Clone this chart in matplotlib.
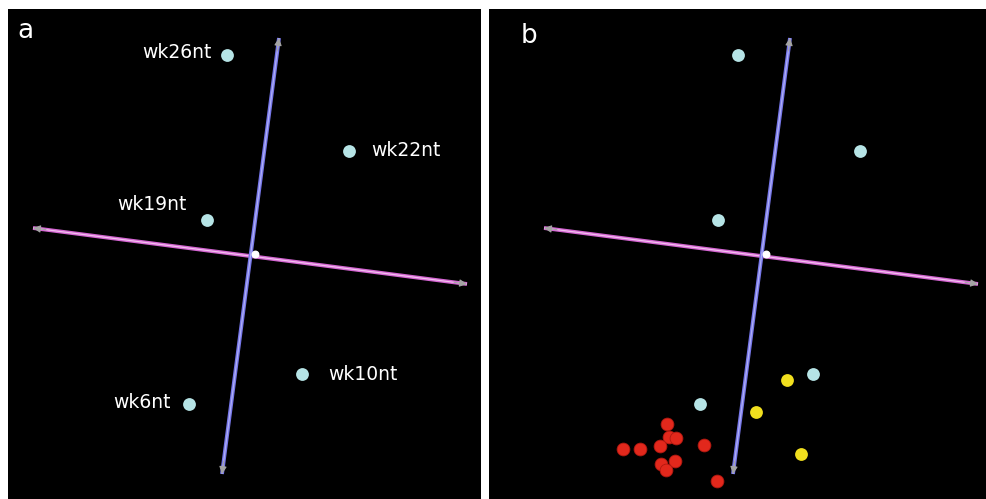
import matplotlib.pyplot as plt

### DATA ###
# sample scores on the two components (origin = 0, 0)
week_labels = ["wk26nt", "wk22nt", "wk19nt", "wk6nt", "wk10nt"]
week_x = [-28, 94, -48, -66, 47]
week_y = [199, 103, 34, -150, -120]

yellow_x = [21, -10, 35]
yellow_y = [-126, -158, -200]

red_x = [-143, -126, -99, -97, -90, -106, -62, -105, -91, -100, -49]
red_y = [-195, -195, -170, -183, -184, -192, -191, -210, -207, -216, -227]

# component axes drawn as arrows (start, end)
blue_axis_x = [-33, 24]
blue_axis_y = [-220, 216]
pink_axis_x = [-222, 212]
pink_axis_y = [26, -30]

# label offsets in pixels (dx, dy, ha)
label_offsets = [(-15, 2, "right"), (22, 0, "left"), (-20, 15, "right"),
                 (-18, 1, "right"), (26, -1, "left")]

### STYLE ###
CYAN = "#b6e4e6"
RED = "#e2281c"
YELLOW = "#f1df1e"
BLUE = "#7676e8"
PINK = "#d466d2"
MARKER_SIZE = 85


def draw_axis(ax, xs, ys, color, core):
    ax.plot(xs, ys, color=color, lw=2.8, solid_capstyle="butt", zorder=2)
    ax.plot(xs, ys, color=core, lw=0.9, solid_capstyle="butt", zorder=2)
    # small grey arrow heads at both ends
    for i, j in [(0, 1), (1, 0)]:
        fx = xs[i] + (xs[j] - xs[i]) * 0.97
        fy = ys[i] + (ys[j] - ys[i]) * 0.97
        ax.annotate("", xy=(xs[j], ys[j]), xytext=(fx, fy),
                    arrowprops=dict(arrowstyle="-|>", color="#a4a4a4", lw=0.8,
                                    mutation_scale=11, shrinkA=0, shrinkB=0),
                    zorder=3)


def setup_panel(ax, xlim):
    ax.set_facecolor("black")
    ax.set_xlim(*xlim)
    ax.set_ylim(-245, 245)
    ax.set_xticks([])
    ax.set_yticks([])
    for s in ax.spines.values():
        s.set_visible(False)
    draw_axis(ax, pink_axis_x, pink_axis_y, PINK, "#f2c0ee")
    draw_axis(ax, blue_axis_x, blue_axis_y, BLUE, "#b0b0f6")
    ax.scatter([0], [0], s=22, color="white", zorder=4)


fig = plt.figure(figsize=(9.86, 4.99), dpi=100)
fig.patch.set_facecolor("white")
W, H = 986.0, 499.0
ax1 = fig.add_axes([8 / W, 0, 473 / W, 490 / H])
ax2 = fig.add_axes([489 / W, 0, 497 / W, 490 / H])

### PANEL A ###
setup_panel(ax1, (-247, 226))
ax1.scatter(week_x, week_y, s=MARKER_SIZE, color=CYAN, zorder=5, linewidths=0)
for lab, x, y, (dx, dy, ha) in zip(week_labels, week_x, week_y, label_offsets):
    ax1.annotate(lab, (x, y), xytext=(dx, dy), textcoords="offset pixels",
                 ha=ha, va="center", color="white", fontsize=13.5,
                 family="DejaVu Sans")
ax1.text(0.019, 0.941, "a", transform=ax1.transAxes, color="white",
         fontsize=19, va="baseline", ha="left")

### PANEL B ###
setup_panel(ax2, (-277, 220))
ax2.scatter(week_x, week_y, s=MARKER_SIZE, color=CYAN, zorder=5, linewidths=0)
ax2.scatter(yellow_x, yellow_y, s=MARKER_SIZE, color=YELLOW, zorder=5, linewidths=0)
ax2.scatter(red_x, red_y, s=MARKER_SIZE, color=RED, zorder=5,
            edgecolors="#b01810", linewidths=0.6)
ax2.text(0.064, 0.931, "b", transform=ax2.transAxes, color="white",
         fontsize=19, va="baseline", ha="left")

fig.savefig("out.png", dpi=100, facecolor="white")
